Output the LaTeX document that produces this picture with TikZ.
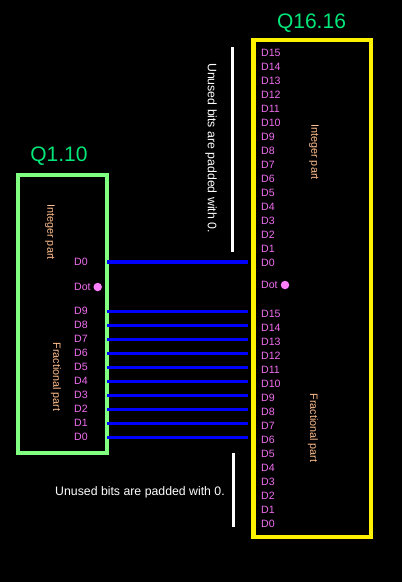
\documentclass[tikz,border=0pt]{standalone}
\usepackage{fontspec}
\setmainfont{Liberation Sans}
\definecolor{qgreen}{RGB}{0,230,120}
\definecolor{boxgreen}{RGB}{128,255,128}
\definecolor{labpink}{RGB}{240,110,240}
\definecolor{dotpink}{RGB}{255,128,255}
\definecolor{parttxt}{RGB}{255,190,140}
\definecolor{wirecol}{RGB}{0,0,255}
\begin{document}
\begin{tikzpicture}[x=1pt,y=-1pt,
  qlabel/.style={text=qgreen,font=\fontsize{21}{24}\selectfont,inner sep=0pt},
  bit/.style={text=labpink,font=\fontsize{10.6}{12}\selectfont,anchor=west,inner sep=0pt,text height=7.6pt,text depth=0pt},
  parttext/.style={text=parttxt,font=\fontsize{10.8}{12}\selectfont,rotate=-90,inner sep=0pt},
  note/.style={text=white,font=\fontsize{12.3}{14}\selectfont,inner sep=0pt},
  wire/.style={draw=wirecol,line width=3.2pt},
  bar/.style={draw=white,line width=3pt},
  dotmark/.style={circle,fill=dotpink,minimum size=8.5pt,inner sep=0pt}]
\fill[black] (0,0) rectangle (402,582);
\useasboundingbox (0,0) rectangle (402,582);
% boxes
\node[draw=boxgreen,line width=4pt,minimum width=89pt,minimum height=278pt,inner sep=0pt,outer sep=0pt] (lbox) at (62.5,314) {};
\node[draw=yellow,line width=4.5pt,minimum width=117.5pt,minimum height=497pt,inner sep=0pt,outer sep=0pt] (rbox) at (312.25,288.5) {};
\node[qlabel] (lq) at (59,156) {Q1.10};
\node[qlabel] (rq) at (311.5,23) {Q16.16};
% left labels
\node[bit] (lI0) at (74,262) {D0};
\node[bit] (ldot) at (74,287) {Dot};
\node[dotmark] (ldotc) at (97.7,287) {};
\foreach \i [count=\k from 0] in {9,8,7,6,5,4,3,2,1,0} {
  \node[bit] (lF\i) at (74,311+14*\k) {D\i};
}
\node[parttext] (lint) at (50,232) {Integer part};
\node[parttext] (lfrac) at (56,377) {Fractional part};
% right labels
\foreach \i [count=\k from 0] in {15,14,13,12,11,10,9,8,7,6,5,4,3,2,1,0} {
  \node[bit] (rI\i) at (261,52.3+14*\k) {D\i};
  \node[bit] (rF\i) at (261,313.3+14*\k) {D\i};
}
\node[bit] (rdot) at (261,285) {Dot};
\node[dotmark] (rdotc) at (285,285) {};
\node[parttext] (rint) at (314,152) {Integer part};
\node[parttext] (rfrac) at (313,428) {Fractional part};
% wires
\draw[wire,shorten >=5.5pt] (lbox.east |- lI0.center) -- (rbox.west |- lI0.center);
\foreach \i in {9,8,7,6,5,4,3,2,1,0} {
  \draw[wire,shorten >=5.5pt] ([yshift=-0.8pt]lbox.east |- lF\i.center) -- ([yshift=-0.8pt]rbox.west |- lF\i.center);
}
% notes
\coordinate (b1t) at (232,47);
\coordinate (b1b) at (232,252);
\draw[bar] (b1t) -- (b1b);
\node[note,rotate=-90] (n1) at (211,148) {Unused bits are padded with 0.};
\coordinate (b2t) at (233,453);
\coordinate (b2b) at (233,527);
\draw[bar] (b2t) -- (b2b);
\node[note] (n2) at (140,492) {Unused bits are padded with 0.};
\end{tikzpicture}
\end{document}
